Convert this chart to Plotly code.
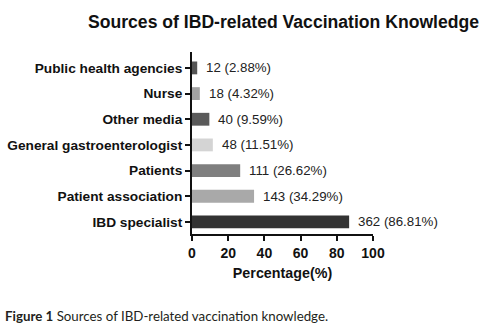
import plotly.graph_objects as go

# Sources, listed bottom to top as drawn
sources = [
    "IBD specialist",
    "Patient association",
    "Patients",
    "General gastroenterologist",
    "Other media",
    "Nurse",
    "Public health agencies",
]
counts = [362, 143, 111, 48, 40, 18, 12]
percents = [86.81, 34.29, 26.62, 11.51, 9.59, 4.32, 2.88]
bar_colors = ["#333333", "#a9a9a9", "#7f7f7f", "#d4d4d4", "#5a5a5a", "#a3a3a3", "#555555"]
x_ticks = [0, 20, 40, 60, 80, 100]

W, H = 491, 333
PL, PR, PT, PB = 192, 373, 52, 234  # plot area edges in pixels
FONT = "Liberation Sans, Arial, sans-serif"


def px_x(px):
    return (px - PL) / (PR - PL)


def px_y(py):
    return (PB - py) / (PB - PT)


fig = go.Figure()
fig.add_trace(go.Bar(
    y=sources,
    x=percents,
    orientation="h",
    width=0.5,
    marker=dict(color=bar_colors, line=dict(width=0)),
    hoverinfo="skip",
))

# value labels to the right of each bar
for s, n, p in zip(sources, counts, percents):
    fig.add_annotation(
        x=p, y=s, xref="x", yref="y",
        text=f"{n} ({p:.2f}%)",
        showarrow=False, xanchor="left", yanchor="middle", xshift=7,
        font=dict(family=FONT, size=13.3, color="#222222"),
    )

# chart title
fig.add_annotation(
    x=px_x(283), y=px_y(22), xref="paper", yref="paper",
    text="<b>Sources of IBD-related Vaccination Knowledge</b>",
    showarrow=False, xanchor="center", yanchor="middle",
    font=dict(family=FONT, size=17.6, color="#111111"),
)

# figure caption
fig.add_annotation(
    x=px_x(3), y=px_y(316), xref="paper", yref="paper",
    text="<b>Figure 1</b> Sources of IBD-related vaccination knowledge.",
    showarrow=False, xanchor="left", yanchor="middle",
    font=dict(family="Lato, Open Sans, sans-serif", size=13.3, color="#231f20"),
)

fig.update_layout(
    width=W, height=H,
    margin=dict(l=PL, r=W - PR, t=PT, b=H - PB, pad=0, autoexpand=False),
    paper_bgcolor="white", plot_bgcolor="white",
    showlegend=False,
    bargap=0.5,
    xaxis=dict(
        range=[0, 100], tickvals=x_ticks, ticktext=[f"<b>{t}</b>" for t in x_ticks],
        showline=True, linecolor="#111111", linewidth=2,
        ticks="outside", ticklen=5, tickwidth=2, tickcolor="#111111",
        showgrid=False, zeroline=False, automargin=False,
        tickfont=dict(family=FONT, size=14, color="#111111"),
        title=dict(text="<b>Percentage(%)</b>", standoff=8,
                   font=dict(family=FONT, size=14.3, color="#111111")),
        fixedrange=True,
    ),
    yaxis=dict(
        range=[-0.47, 6.62],
        categoryorder="array", categoryarray=sources,
        tickvals=sources, ticktext=[f"<b>{s}</b>" for s in sources],
        showline=True, linecolor="#111111", linewidth=2,
        ticks="outside", ticklen=5, tickwidth=2, tickcolor="#111111",
        showgrid=False, zeroline=False, automargin=False,
        tickfont=dict(family=FONT, size=13.7, color="#111111"),
        fixedrange=True,
    ),
)

fig.write_html("out.html")
